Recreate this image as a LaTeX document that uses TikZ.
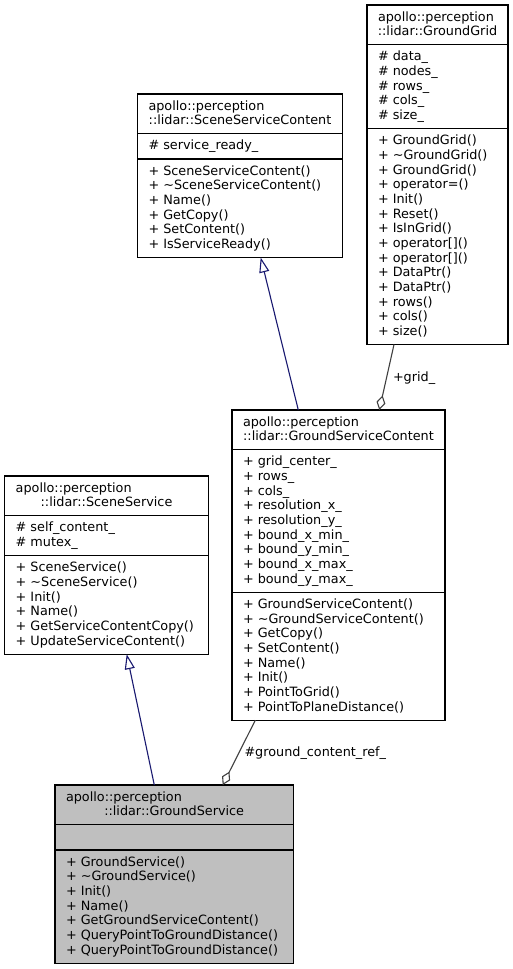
\documentclass[tikz,border=0pt]{standalone}
\usepackage{fontspec}
\setmainfont{DejaVu Sans}
\usetikzlibrary{arrows.meta,calc}
\definecolor{navyc}{HTML}{191970}
\definecolor{aggrc}{HTML}{404040}
\definecolor{greyfill}{HTML}{BFBFBF}
\tikzset{
  txt/.style={inner sep=0pt, outer sep=0pt, font=\fontsize{12.8}{14.67}\selectfont, text=black},
  classbox/.style={draw=black, line width=1.2pt, inner sep=0pt, outer sep=0pt, rectangle},
  sepline/.style={draw=black, line width=1.2pt},
  inherit/.style={draw=navyc, line width=1.1pt, -{Triangle[length=15pt, width=10pt, fill=white]}},
  aggr/.style={draw=aggrc, line width=1.1pt, -{Diamond[length=15pt, width=9pt, fill=white]}},
}
% #1 name #2 left #3 top #4 width #5 nattr #6 nmeth #7 fill #8 title1 #9 title2
\newcommand\umlclass[9]{%
  \pgfmathsetmacro\hT{2*14.67+10.5}%
  \pgfmathsetmacro\hA{#5*14.67+10.5}%
  \pgfmathsetmacro\hM{#6*14.67+10.5}%
  \pgfmathsetmacro\hH{\hT+\hA+\hM}%
  \pgfmathsetmacro\hTA{\hT+\hA}%
  \node[classbox, fill=#7, minimum width=#4pt, minimum height=\hH pt, anchor=north west] (#1) at (#2,#3) {};
  \draw[sepline] ([yshift=-\hT pt]#1.north west) -- ([yshift=-\hT pt]#1.north east);
  \draw[sepline] ([yshift=-\hTA pt]#1.north west) -- ([yshift=-\hTA pt]#1.north east);
  \node[txt, anchor=base west] (#1-t1) at (#2+11, #3+16) {#8};
  \node[txt, anchor=base] (#1-t2) at (#2+#4/2, #3+16+14.67) {#9};
  \coordinate (#1-a) at (#2+11, #3+\hT+16);
  \coordinate (#1-m) at (#2+11, #3+\hTA+16);
}
\newcommand\umllines[3]{%
  \foreach \t [count=\i from 0] in {#3} {\node[txt, anchor=base west] (#1-#2\i) at ([yshift={-14.67pt*\i}]#1-#2) {\t};}%
}
\begin{document}
\begin{tikzpicture}[x=1pt, y=-1pt]
\fill[white] (0,0) rectangle (513,969);
\useasboundingbox (0,0) rectangle (513,969);

% GroundGrid
\umlclass{gg}{367}{5}{141}{5}{14}{white}{apollo::perception}{::lidar::GroundGrid}
\umllines{gg}{a}{{\# data\_},{\# nodes\_},{\# rows\_},{\# cols\_},{\# size\_}}
\umllines{gg}{m}{{+ GroundGrid()},{+ \textasciitilde GroundGrid()},{+ GroundGrid()},{+ operator=()},{+ Init()},{+ Reset()},{+ IsInGrid()},{+ operator[]()},{+ operator[]()},{+ DataPtr()},{+ DataPtr()},{+ rows()},{+ cols()},{+ size()}}

% SceneServiceContent
\umlclass{ssc}{137.5}{94}{205}{1}{6}{white}{apollo::perception}{::lidar::SceneServiceContent}
\umllines{ssc}{a}{{\# service\_ready\_}}
\umllines{ssc}{m}{{+ SceneServiceContent()},{+ \textasciitilde SceneServiceContent()},{+ Name()},{+ GetCopy()},{+ SetContent()},{+ IsServiceReady()}}

% GroundServiceContent
\umlclass{gsc}{232}{410}{213}{9}{8}{white}{apollo::perception}{::lidar::GroundServiceContent}
\umllines{gsc}{a}{{+ grid\_center\_},{+ rows\_},{+ cols\_},{+ resolution\_x\_},{+ resolution\_y\_},{+ bound\_x\_min\_},{+ bound\_y\_min\_},{+ bound\_x\_max\_},{+ bound\_y\_max\_}}
\umllines{gsc}{m}{{+ GroundServiceContent()},{+ \textasciitilde GroundServiceContent()},{+ GetCopy()},{+ SetContent()},{+ Name()},{+ Init()},{+ PointToGrid()},{+ PointToPlaneDistance()}}

% SceneService
\umlclass{ss}{4.7}{476}{203.6}{2}{6}{white}{apollo::perception}{::lidar::SceneService}
\umllines{ss}{a}{{\# self\_content\_},{\# mutex\_}}
\umllines{ss}{m}{{+ SceneService()},{+ \textasciitilde SceneService()},{+ Init()},{+ Name()},{+ GetServiceContentCopy()},{+ UpdateServiceContent()}}

% GroundService
\umlclass{gs}{55}{785}{238.3}{1}{7}{greyfill}{apollo::perception}{::lidar::GroundService}
\umllines{gs}{m}{{+ GroundService()},{+ \textasciitilde GroundService()},{+ Init()},{+ Name()},{+ GetGroundServiceContent()},{+ QueryPointToGroundDistance()},{+ QueryPointToGroundDistance()}}

% connectors
\draw[inherit] ([xshift=66.3pt]gsc.north west) -- ([xshift=123.2pt]ssc.south west);
\draw[inherit] ([xshift=99.3pt]gs.north west) -- ([xshift=122pt]ss.south west);
\draw[aggr] ([xshift=27pt]gg.south west) -- ([xshift=147.3pt]gsc.north west);
\draw[aggr] ([xshift=23.3pt]gsc.south west) -- ([xshift=167.7pt]gs.north west);

\node[txt, anchor=base west] (gridlbl) at (393,381.5) {+grid\_};
\node[txt, anchor=base west] (reflbl) at (244.5,756.7) {\#ground\_content\_ref\_};
\end{tikzpicture}
\end{document}
